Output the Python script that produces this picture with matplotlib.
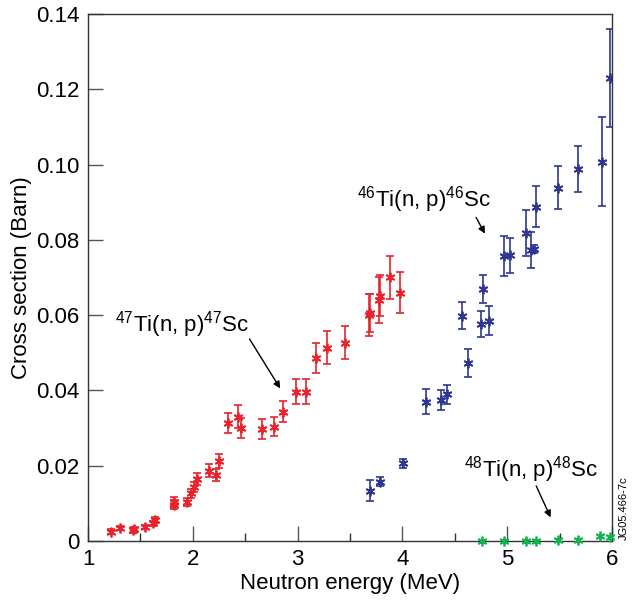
import matplotlib
matplotlib.use("Agg")
import matplotlib.pyplot as plt

plt.rcParams['font.family'] = ['Liberation Sans', 'DejaVu Sans']
plt.rcParams['mathtext.fontset'] = 'custom'
plt.rcParams['mathtext.rm'] = 'Liberation Sans'
plt.rcParams['mathtext.it'] = 'Liberation Sans'

# 47Ti(n,p)47Sc
ti47_e = [1.22, 1.305, 1.43, 1.44, 1.54, 1.62, 1.64, 1.82, 1.82, 1.94, 1.98, 2.01, 2.04,
          2.15, 2.22, 2.25, 2.34, 2.43, 2.46, 2.66, 2.77, 2.86, 2.985, 3.08, 3.18, 3.28,
          3.45, 3.68, 3.69, 3.78, 3.79, 3.88, 3.98]
ti47_xs = [0.0025, 0.0035, 0.0028, 0.0032, 0.0037, 0.0047, 0.0056, 0.0104, 0.0097, 0.0104,
           0.0127, 0.0143, 0.0164, 0.0187, 0.0175, 0.0213, 0.0313, 0.0330, 0.0300, 0.0298,
           0.0304, 0.0344, 0.0397, 0.0397, 0.0485, 0.0514, 0.0527, 0.0600, 0.0605, 0.0640,
           0.0652, 0.0700, 0.0660]
ti47_err = [0.0006, 0.0006, 0.0006, 0.0006, 0.0006, 0.0007, 0.0008, 0.0012, 0.0012, 0.0010,
            0.0012, 0.0013, 0.0016, 0.0017, 0.0016, 0.0019, 0.0026, 0.0030, 0.0027, 0.0027,
            0.0026, 0.0027, 0.0033, 0.0033, 0.0040, 0.0043, 0.0043, 0.0056, 0.0050, 0.0060,
            0.0055, 0.0058, 0.0054]

# 46Ti(n,p)46Sc
ti46_e = [3.69, 3.79, 4.01, 4.225, 4.365, 4.43, 4.57, 4.63, 4.75, 4.77, 4.83, 4.97, 5.03,
          5.18, 5.23, 5.26, 5.275, 5.48, 5.68, 5.90, 5.98]
ti46_xs = [0.0133, 0.0158, 0.0206, 0.0370, 0.0375, 0.0390, 0.0599, 0.0472, 0.0577, 0.0669,
           0.0585, 0.0757, 0.0759, 0.0819, 0.0773, 0.0776, 0.0888, 0.0939, 0.0988, 0.1008,
           0.1229]
ti46_err = [0.0028, 0.0013, 0.0012, 0.0033, 0.0026, 0.0025, 0.0037, 0.0037, 0.0034, 0.0038,
            0.0038, 0.0052, 0.0046, 0.0061, 0.0047, 0.0010, 0.0054, 0.0058, 0.0061, 0.0118,
            0.0130]

# 48Ti(n,p)48Sc
ti48_e = [4.76, 4.97, 5.18, 5.275, 5.48, 5.68, 5.885, 5.98]
ti48_xs = [0.0, 0.0, 0.0, 0.0001, 0.0002, 0.0003, 0.0013, 0.0011]

red = '#e8232c'
blue = '#2e3792'
green = '#14b350'
star = (6, 2, 0)

fig = plt.figure(figsize=(6.35, 6.01), dpi=100)
ax = fig.add_axes([0.1386, 0.0998, 0.8252, 0.877])

ax.errorbar(ti47_e, ti47_xs, yerr=ti47_err, fmt='none', ecolor=red, elinewidth=1.2,
            capsize=3, capthick=1.2)
ax.plot(ti47_e, ti47_xs, ls='none', marker=star, ms=7, mew=1.3, color=red)

ax.errorbar(ti46_e, ti46_xs, yerr=ti46_err, fmt='none', ecolor=blue, elinewidth=1.2,
            capsize=3, capthick=1.2)
ax.plot(ti46_e, ti46_xs, ls='none', marker=star, ms=7, mew=1.3, color=blue)

ax.plot(ti48_e, ti48_xs, ls='none', marker=star, ms=7, mew=1.3, color=green, clip_on=False,
        zorder=5)

ax.set_xlim(1, 6)
ax.set_ylim(0, 0.14)
ax.set_xticks([1, 2, 3, 4, 5, 6])
ax.set_xticks([1.5, 2.5, 3.5, 4.5, 5.5], minor=True)
ax.set_yticks([0, 0.02, 0.04, 0.06, 0.08, 0.10, 0.12, 0.14])
ax.set_yticklabels(['0', '0.02', '0.04', '0.06', '0.08', '0.10', '0.12', '0.14'])
ax.tick_params(axis='both', which='major', direction='in', length=11, width=1,
               labelsize=16, color='#555555', pad=6)
ax.tick_params(axis='x', which='minor', direction='in', length=6, width=1, color='#333333')
for s in ax.spines.values():
    s.set_color('#333333')
    s.set_linewidth(1)

ax.set_xlabel('Neutron energy (MeV)', fontsize=16, labelpad=2)
ax.set_ylabel('Cross section (Barn)', fontsize=16, labelpad=0)
ax.yaxis.set_label_coords(-0.107, 0.5)

arrow = dict(arrowstyle='-|>', color='black', lw=1, mutation_scale=10)
ax.text(1.90, 0.0574, r'$^{47}$Ti(n, p)$^{47}$Sc', fontsize=16, ha='center', va='center')
ax.annotate('', xy=(2.848, 0.0399), xytext=(2.527, 0.0543), arrowprops=arrow)
ax.text(4.21, 0.0906, r'$^{46}$Ti(n, p)$^{46}$Sc', fontsize=16, ha='center', va='center')
ax.annotate('', xy=(4.80, 0.081), xytext=(4.69, 0.0866), arrowprops=arrow)
ax.text(5.227, 0.019, r'$^{48}$Ti(n, p)$^{48}$Sc', fontsize=16, ha='center', va='center')
ax.annotate('', xy=(5.425, 0.0056), xytext=(5.266, 0.0153), arrowprops=arrow)

fig.text(0.982, 0.155, 'JG05.466-7c', rotation=90, fontsize=8, ha='center', va='center')

fig.savefig('out.png', dpi=100)
